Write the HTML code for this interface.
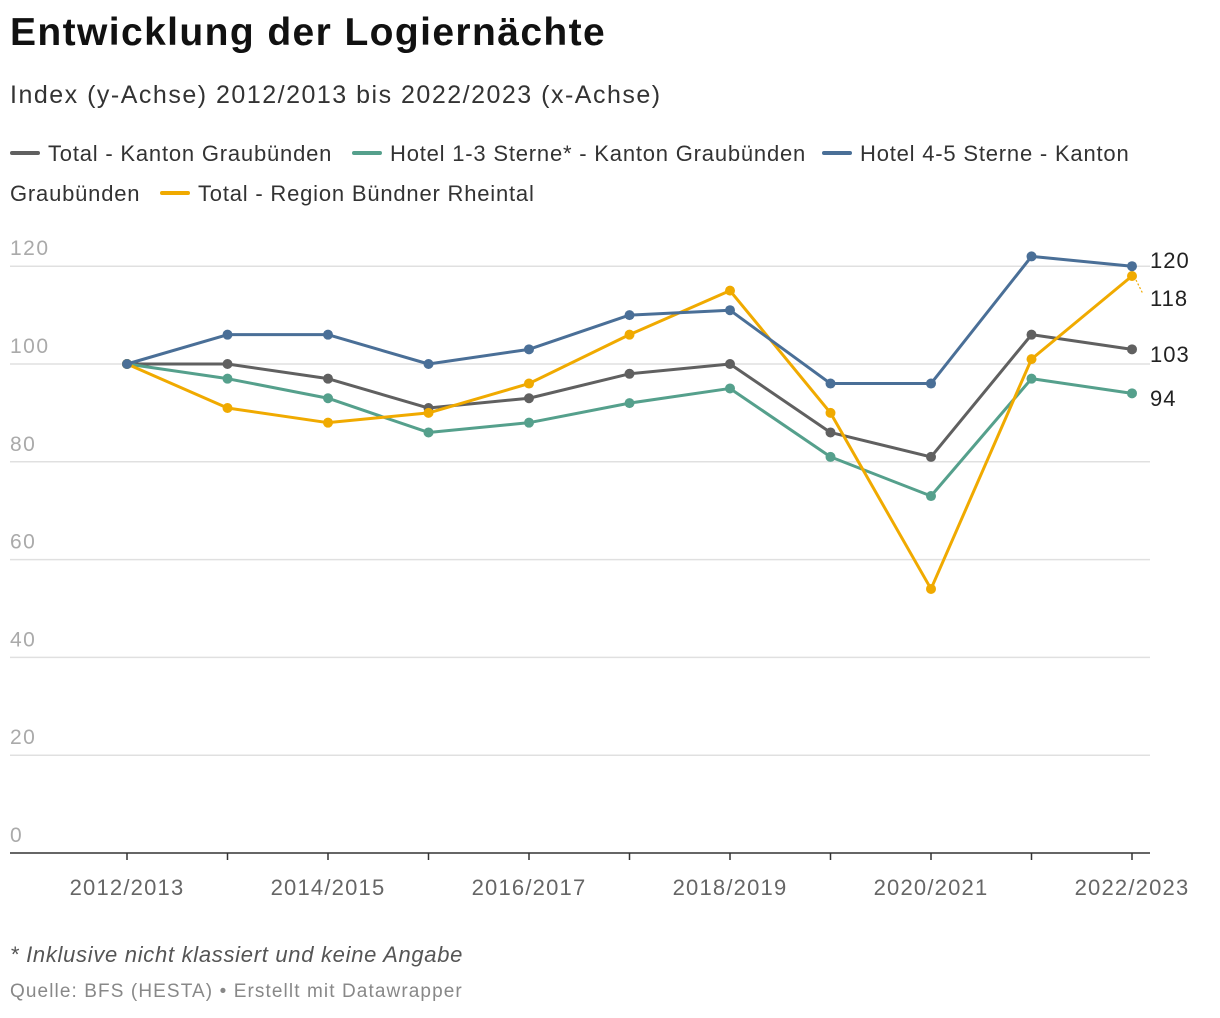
<!DOCTYPE html>
<html><head><meta charset="utf-8"><style>
body{margin:0;width:1220px;height:1018px;background:#fff;font-family:"Liberation Sans",Arial,sans-serif;overflow:hidden;position:relative}
.t{position:absolute;left:10px;white-space:nowrap}
#title{top:11px;font-size:39px;font-weight:bold;color:#111;letter-spacing:1.4px}
#sub{top:81px;font-size:25px;color:#333;letter-spacing:1.5px}
.leg{position:absolute;font-size:22px;color:#333;white-space:nowrap;letter-spacing:0.8px}
.sw{display:inline-block;width:30px;height:4px;border-radius:2px;vertical-align:middle;margin-right:8px;position:relative;top:-2px}
#note{top:942px;font-size:22px;font-style:italic;color:#555;letter-spacing:0.7px}
#src{top:981px;font-size:19px;color:#888;letter-spacing:1.1px}
</style></head><body>
<div class="t" id="title">Entwicklung der Logiernächte</div>
<div class="t" id="sub">Index (y-Achse) 2012/2013 bis 2022/2023 (x-Achse)</div>
<div class="leg" style="left:10px;top:141px"><span class="sw" style="background:#606060"></span>Total - Kanton Graubünden</div>
<div class="leg" style="left:352px;top:141px"><span class="sw" style="background:#55a08c"></span>Hotel 1-3 Sterne* - Kanton Graubünden</div>
<div class="leg" style="left:822px;top:141px"><span class="sw" style="background:#4a6f97"></span>Hotel 4-5 Sterne - Kanton</div>
<div class="leg" style="left:10px;top:181px">Graubünden</div>
<div class="leg" style="left:160px;top:181px"><span class="sw" style="background:#f0aa00"></span>Total - Region Bündner Rheintal</div>
<svg id="chart" width="1220" height="1018" style="position:absolute;left:0;top:0"></svg>
<div class="t" id="note">* Inklusive nicht klassiert und keine Angabe</div>
<div class="t" id="src">Quelle: BFS (HESTA) • Erstellt mit Datawrapper</div>
<script>
const categories=["2012/2013","2013/2014","2014/2015","2015/2016","2016/2017","2017/2018","2018/2019","2019/2020","2020/2021","2021/2022","2022/2023"];
const totalGR=[100,100,97,91,93,98,100,86,81,106,103];
const hotel13=[100,97,93,86,88,92,95,81,73,97,94];
const hotel45=[100,106,106,100,103,110,111,96,96,122,120];
const region=[100,91,88,90,96,106,115,90,54,101,118];
const yTicks=[0,20,40,60,80,100,120];
const NS="http://www.w3.org/2000/svg";
const svg=document.getElementById('chart');
const x=i=>127+i*100.5;
const y=v=>853-v*4.89;
function mk(t,a){const e=document.createElementNS(NS,t);for(const k in a)e.setAttribute(k,a[k]);svg.appendChild(e);return e;}
yTicks.forEach(v=>{
  if(v>0){const l=mk('line',{x1:10,x2:1150,y1:y(v),y2:y(v),stroke:'#e0e0e0','stroke-width':1.5});
  
  }
  const t=mk('text',{x:10,y:y(v)-11,fill:'#aaa','font-size':21,'letter-spacing':1.5,'font-family':'Liberation Sans, sans-serif'});
  t.textContent=v;
  
  
});
const ax=mk('line',{x1:10,x2:1150,y1:853,y2:853,stroke:'#333','stroke-width':1.5});


categories.forEach((c,i)=>{
  const tk=mk('line',{x1:x(i),x2:x(i),y1:853,y2:860,stroke:'#333','stroke-width':1.5});
  
  
  if(i%2===0){const t=mk('text',{x:x(i),y:895,fill:'#666','font-size':22,'letter-spacing':1.2,'text-anchor':'middle','font-family':'Liberation Sans, sans-serif'});
  t.textContent=c;
  
  }
});
const series=[[totalGR,'#606060','total-gr',354],[hotel13,'#55a08c','hotel-13',398],[region,'#f0aa00','region',298],[hotel45,'#4a6f97','hotel-45',260]];
series.forEach(([d,col,name,ly])=>{
  const p=mk('polyline',{points:d.map((v,i)=>x(i)+','+y(v)).join(' '),fill:'none',stroke:col,'stroke-width':3,'stroke-linejoin':'round'});
  
  
  d.forEach((v,i)=>{const c=mk('circle',{cx:x(i),cy:y(v),r:5,fill:col});
  
  });
  const lv=d[d.length-1];
  if(Math.abs(y(lv)-ly)>8){const cl=mk('line',{x1:x(10)+4,y1:y(lv)+(ly>y(lv)?4:-4),x2:1143,y2:ly+(ly>y(lv)?-4:4),stroke:col,'stroke-width':1.2,'stroke-dasharray':'2,2'});
  
  }
  const t=mk('text',{x:1150,y:ly+8,fill:'#222','font-size':22,'letter-spacing':1,'font-family':'Liberation Sans, sans-serif'});
  t.textContent=lv;
  
  
});
</script>
</body></html>
